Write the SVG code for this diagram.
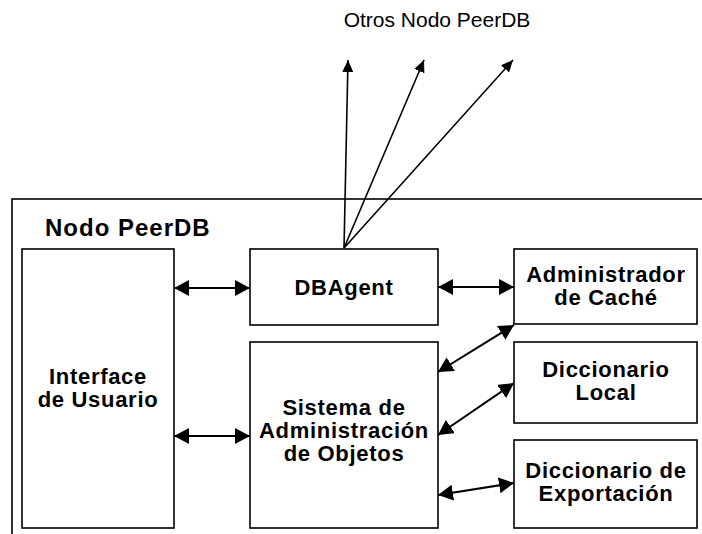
<svg xmlns="http://www.w3.org/2000/svg" width="702" height="534" viewBox="0 0 702 534">
<defs>
<style>
.box{fill:#fff;stroke:#000;stroke-width:1.6}
.frame{fill:none;stroke:#000;stroke-width:1.6}
.lbl{font-family:"Liberation Sans",Arial,sans-serif;font-weight:bold;font-size:22px;letter-spacing:0.7px;text-anchor:middle;fill:#000}
.ttl{font-family:"Liberation Sans",Arial,sans-serif;font-weight:bold;font-size:24px;letter-spacing:1px;fill:#000}
.top{font-family:"Liberation Sans",Arial,sans-serif;font-size:21px;text-anchor:middle;fill:#000}
.con{stroke:#000;stroke-width:2;fill:none}
.fan{stroke:#000;stroke-width:1.6;fill:none}
</style>
<marker id="big" viewBox="0 0 15 16" refX="15" refY="8" markerWidth="15" markerHeight="16" markerUnits="userSpaceOnUse" orient="auto-start-reverse">
<path d="M0,0 L15,8 L0,16 z" fill="#000"/>
</marker>
<marker id="small" viewBox="0 0 12 11" refX="12" refY="5.5" markerWidth="12" markerHeight="11" markerUnits="userSpaceOnUse" orient="auto">
<path d="M0,0 L12,5.5 L0,11 z" fill="#000"/>
</marker>
</defs>
<rect width="702" height="534" fill="#fff"/>
<text class="top" x="437" y="27">Otros Nodo PeerDB</text>
<g id="frame">
<rect class="frame" x="12" y="199" width="700" height="345"/>
<text class="ttl" x="45" y="236">Nodo PeerDB</text>
</g>
<g id="interface">
<rect class="box" x="22" y="249" width="152" height="279"/>
<text class="lbl" x="98" y="384">Interface</text>
<text class="lbl" x="98" y="407">de Usuario</text>
</g>
<g id="dbagent">
<rect class="box" x="250" y="249" width="188" height="76"/>
<text class="lbl" x="344" y="295">DBAgent</text>
</g>
<g id="sao">
<rect class="box" x="250" y="342" width="188" height="186"/>
<text class="lbl" x="344" y="415">Sistema de</text>
<text class="lbl" x="344" y="438">Administración</text>
<text class="lbl" x="344" y="461">de Objetos</text>
</g>
<g id="cache">
<rect class="box" x="514" y="249" width="183" height="75"/>
<text class="lbl" x="606" y="282">Administrador</text>
<text class="lbl" x="606" y="305">de Caché</text>
</g>
<g id="local">
<rect class="box" x="514" y="342" width="183" height="81"/>
<text class="lbl" x="606" y="377">Diccionario</text>
<text class="lbl" x="606" y="400">Local</text>
</g>
<g id="export">
<rect class="box" x="514" y="440" width="183" height="88"/>
<text class="lbl" x="606" y="478">Diccionario de</text>
<text class="lbl" x="606" y="501">Exportación</text>
</g>
<g id="connectors">
<line class="con" x1="174" y1="288" x2="250" y2="288" marker-start="url(#big)" marker-end="url(#big)"/>
<line class="con" x1="174" y1="436" x2="250" y2="436" marker-start="url(#big)" marker-end="url(#big)"/>
<line class="con" x1="438" y1="287" x2="514" y2="287" marker-start="url(#big)" marker-end="url(#big)"/>
<line class="con" x1="438" y1="372" x2="514" y2="325" marker-start="url(#big)" marker-end="url(#big)"/>
<line class="con" x1="438" y1="435" x2="514" y2="383" marker-start="url(#big)" marker-end="url(#big)"/>
<line class="con" x1="438" y1="495" x2="514" y2="483" marker-start="url(#big)" marker-end="url(#big)"/>
<line class="fan" x1="344" y1="248" x2="348" y2="60" marker-end="url(#small)"/>
<line class="fan" x1="344" y1="248" x2="424" y2="60" marker-end="url(#small)"/>
<line class="fan" x1="344" y1="248" x2="513" y2="60" marker-end="url(#small)"/>
</g>
</svg>
